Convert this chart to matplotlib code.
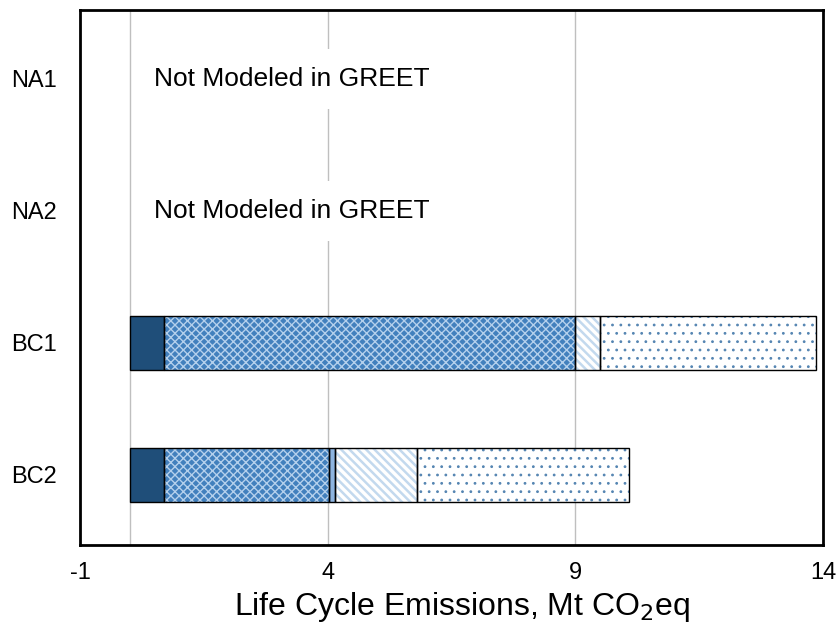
import matplotlib.pyplot as plt
import numpy as np

plt.rcParams['font.family'] = ['Liberation Sans', 'DejaVu Sans']

categories = ['NA1', 'NA2', 'BC1', 'BC2']
modeled = [False, False, True, True]

# segment widths (Mt CO2eq), per category
seg_dark = [0, 0, 0.70, 0.70]
seg_check = [0, 0, 8.30, 3.32]
seg_light = [0, 0, 0.00, 0.13]
seg_diag = [0, 0, 0.49, 1.65]
seg_dots = [0, 0, 4.37, 4.28]

xticks = [-1, 4, 9, 14]
xticklabels = ['-1', '4', '9', '14']

# (values, face, hatch, hatch colour, hatch linewidth)
styles = [
    (seg_dark, '#1F4E79', None, None, 1.0),
    (seg_check, '#4280BD', 'xxxx', '#B4D0EC', 1.0),
    (seg_light, '#8DB4E0', None, None, 1.0),
    (seg_diag, 'white', '\\\\\\\\', '#C3D9EE', 1.8),
    (seg_dots, 'white', '..', '#5585B2', 0.8),
]

fig, ax = plt.subplots(figsize=(8.38, 6.27), dpi=100)
fig.subplots_adjust(left=0.0955, right=0.982, top=0.984, bottom=0.131)

y = np.arange(len(categories))
h = 0.41
left = np.zeros(len(categories))
for vals, fc, hatch, hc, hlw in styles:
    vals = np.array(vals)
    idx = [i for i in range(len(categories)) if modeled[i] and vals[i] > 0]
    if idx:
        with plt.rc_context({'hatch.linewidth': hlw}):
            bars = ax.barh(y[idx], vals[idx], left=left[idx], height=h,
                           color=fc, hatch=hatch, edgecolor=hc if hc else fc,
                           linewidth=0, zorder=3)
            for b in bars:
                if hasattr(b, 'set_hatch_linewidth'):
                    b.set_hatch_linewidth(hlw)
        ax.barh(y[idx], vals[idx], left=left[idx], height=h, fill=False,
                edgecolor='black', linewidth=1.0, zorder=4)
    left += vals

for xv in [0, 4, 9]:
    ax.axvline(xv, color='#BFBFBF', linewidth=1.0, zorder=1)

for i, m in enumerate(modeled):
    if not m:
        ax.text(0.5, y[i], 'Not Modeled in GREET', fontsize=19, va='center',
                ha='left', zorder=5,
                bbox=dict(facecolor='white', edgecolor='none', pad=13))

ax.set_xlim(-1, 14)
ax.set_ylim(3.53, -0.52)
ax.set_xticks(xticks)
ax.set_xticklabels(xticklabels)
ax.set_yticks(y)
ax.set_yticklabels(categories)
ax.tick_params(axis='both', length=0)
ax.tick_params(axis='x', labelsize=17, pad=12)
ax.tick_params(axis='y', labelsize=17, pad=17)
for s in ax.spines.values():
    s.set_linewidth(2)
ax.set_xlabel('Life Cycle Emissions, Mt CO$_2$eq', fontsize=23)
ax.xaxis.set_label_coords(0.514, -0.085)

fig.savefig('out.png', dpi=100)
